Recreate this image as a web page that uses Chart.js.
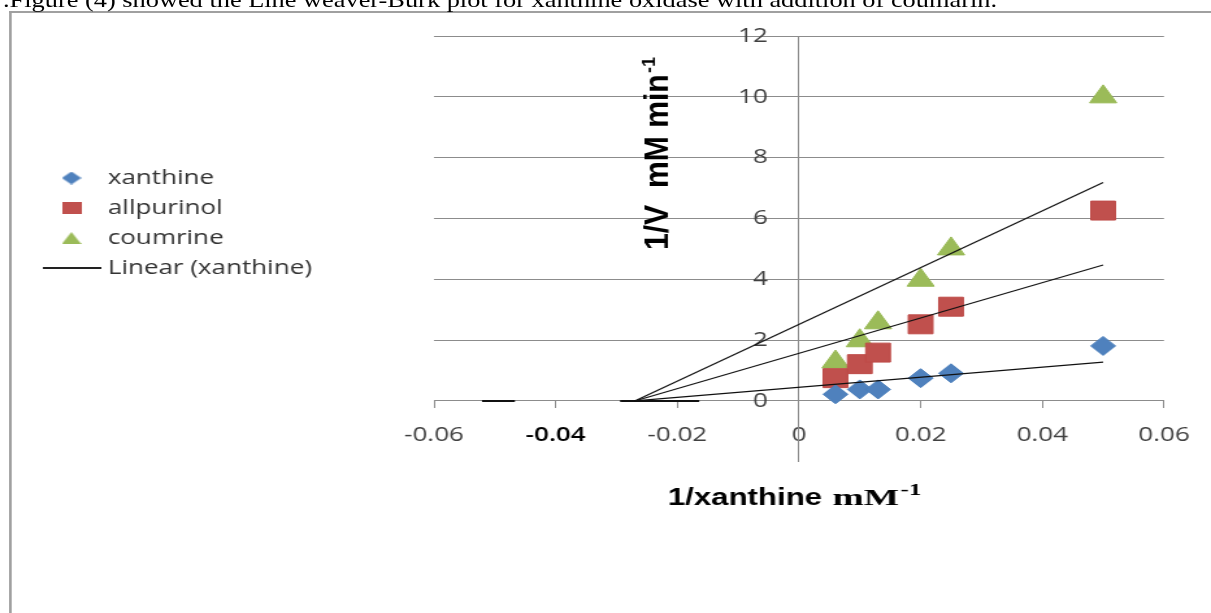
<!DOCTYPE html>
<html>
<head>
<meta charset="utf-8">
<title>Lineweaver-Burk plot</title>
<script src="https://cdn.jsdelivr.net/npm/chart.js@4.4.1/dist/chart.umd.min.js"></script>
<style>
  html, body { margin:0; padding:0; background:#fff; overflow:hidden; width:1211px; height:613px; }
  #stage { position:absolute; left:0; top:0; width:932px; height:613px; transform-origin:0 0; transform:scaleX(1.29936); }
  #chart { position:absolute; left:0; top:0; width:932px; height:613px; }
  #frame { position:absolute; left:7.4px; top:11px; width:940px; height:620px; border-top:2px solid #a0a0a0; border-left:2.3px solid #a0a0a0; box-sizing:border-box; pointer-events:none; }
  #caption { position:absolute; left:2.3px; top:-10px; font-family:"Liberation Serif","Times New Roman",serif; font-size:20.3px; line-height:20.3px; white-space:nowrap; color:#000; }
</style>
</head>
<body>
<div id="stage">
  <canvas id="chart" width="932" height="613"></canvas>
  <div id="frame"></div>
  <div id="caption">.Figure (4) showed the Line weaver-Burk plot for xanthine oxidase with addition of coumarin.</div>
</div>
<script>
// ---------- data ----------
const seriesNames = ['xanthine', 'allpurinol', 'coumrine'];
const trendName = 'Linear (xanthine)';
const xValues = [0.006, 0.010, 0.013, 0.020, 0.025, 0.050];
const xanthineValues = [0.22, 0.38, 0.38, 0.75, 0.91, 1.81];
const allpurinolValues = [0.75, 1.21, 1.59, 2.52, 3.10, 6.26];
const coumrineValues = [1.28, 1.98, 2.57, 3.97, 5.00, 10.0];
const trendX = [-0.027, 0.050];
const trendXanthine = [0, 1.28];
const trendAllpurinol = [0, 4.47];
const trendCoumrine = [0, 7.18];
const axisMarkA = [-0.0521, -0.0467];
const axisMarkB = [-0.0294, -0.0164];
const xTickValues = [-0.06, -0.04, -0.02, 0, 0.02, 0.04, 0.06];
const xTickLabels = ['-0.06', '-0.04', '-0.02', '0', '0.02', '0.04', '0.06'];
const yTickValues = [0, 2, 4, 6, 8, 10, 12];
const yTickLabels = ['0', '2', '4', '6', '8', '10', '12'];
const xTitleParts = ['1/xanthine', 'mM', '-1'];
const yTitleParts = ['1/V  mM min', '-1'];

// ---------- styles ----------
const BLUE = '#4F81BD', RED = '#C0504D', GREEN = '#9BBB59';
const GRID = '#8c8c8c';
const TICKFONT = { family: "'Open Sans', sans-serif", size: 20 };
const TICKFONT_BOLD = { family: "'Open Sans', sans-serif", size: 20, weight: '600' };

const pts = (xs, ys) => xs.map((x, i) => ({ x: x, y: ys[i] }));

function icon(kind, w, h, color) {
  const c = document.createElement('canvas');
  c.width = w; c.height = h;
  const g = c.getContext('2d');
  g.fillStyle = color;
  g.beginPath();
  if (kind === 'diamond') { g.moveTo(w / 2, 0); g.lineTo(w, h / 2); g.lineTo(w / 2, h); g.lineTo(0, h / 2); g.closePath(); g.fill(); }
  else if (kind === 'triangle') { g.moveTo(w / 2, 0); g.lineTo(w, h); g.lineTo(0, h); g.closePath(); g.fill(); }
  else { g.fillRect(0, 0, w, h); }
  return c;
}
const legendIcons = [icon('diamond', 15, 13, BLUE), icon('square', 15, 12, RED), icon('triangle', 15, 12, GREEN), icon('line', 45, 2, '#222')];
const legendTexts = seriesNames.concat([trendName]);

const titlesPlugin = {
  id: 'axisTitles',
  afterDraw(chart) {
    const ctx = chart.ctx;
    ctx.save();
    ctx.fillStyle = '#000';
    ctx.textBaseline = 'alphabetic';
    ctx.textAlign = 'left';
    // x-axis title
    let x = 514;
    const y = 505;
    ctx.font = "bold 24px 'Liberation Sans', Arial, sans-serif";
    ctx.fillText(xTitleParts[0], x, y);
    x += ctx.measureText(xTitleParts[0]).width + 8;
    ctx.save();
    ctx.translate(x, y);
    ctx.scale(1.2, 1);
    ctx.font = "bold 24px 'Liberation Serif', 'Times New Roman', serif";
    ctx.fillText(xTitleParts[1], 0, 0);
    const wm = ctx.measureText(xTitleParts[1]).width + 1;
    ctx.font = "bold 16px 'Liberation Serif', 'Times New Roman', serif";
    ctx.fillText(xTitleParts[2], wm, -10);
    ctx.restore();
    // y-axis title (rotated)
    ctx.translate(514, 250);
    ctx.rotate(-Math.PI / 2);
    ctx.font = "bold 25px 'Liberation Sans', Arial, sans-serif";
    const w1 = ctx.measureText(yTitleParts[0]).width;
    ctx.font = "bold 15px 'Liberation Sans', Arial, sans-serif";
    const w2 = ctx.measureText(yTitleParts[1]).width;
    const k = 193 / (w1 + w2 + 1);
    ctx.scale(k, 1);
    ctx.font = "bold 25px 'Liberation Sans', Arial, sans-serif";
    ctx.fillText(yTitleParts[0], 0, 0);
    ctx.font = "bold 15px 'Liberation Sans', Arial, sans-serif";
    ctx.fillText(yTitleParts[1], w1 + 1, -10);
    ctx.restore();
  }
};

let padW = 80;
const chart = new Chart(document.getElementById('chart'), {
  type: 'scatter',
  data: {
    datasets: [
      { label: trendName, type: 'line', data: pts(trendX, trendXanthine), borderColor: '#111', borderWidth: 1.2, pointRadius: 0, fill: false, order: 1 },
      { label: 'trend allpurinol', type: 'line', data: pts(trendX, trendAllpurinol), borderColor: '#111', borderWidth: 1.2, pointRadius: 0, fill: false, order: 1 },
      { label: 'trend coumrine', type: 'line', data: pts(trendX, trendCoumrine), borderColor: '#111', borderWidth: 1.2, pointRadius: 0, fill: false, order: 1 },
      { label: 'axis mark a', type: 'line', data: pts(axisMarkA, [0, 0]), borderColor: '#111', borderWidth: 2, pointRadius: 0, fill: false, order: 1 },
      { label: 'axis mark b', type: 'line', data: pts(axisMarkB, [0, 0]), borderColor: '#111', borderWidth: 2, pointRadius: 0, fill: false, order: 1 },
      { label: seriesNames[0], data: pts(xValues, xanthineValues), pointStyle: 'rectRot', pointRadius: 9.5, backgroundColor: BLUE, borderColor: '#4A7EBB', borderWidth: 1, order: 2 },
      { label: seriesNames[1], data: pts(xValues, allpurinolValues), pointStyle: 'rect', pointRadius: 13.4, backgroundColor: RED, borderColor: '#BE4B48', borderWidth: 1, order: 2 },
      { label: seriesNames[2], data: pts(xValues, coumrineValues), pointStyle: 'triangle', pointRadius: 12, backgroundColor: GREEN, borderColor: '#98B954', borderWidth: 1, order: 2 }
    ]
  },
  options: {
    responsive: false,
    animation: false,
    devicePixelRatio: 1,
    layout: { padding: { left: 27, right: 36.2, top: 36, bottom: 151.2 } },
    plugins: {
      tooltip: { enabled: false },
      legend: {
        position: 'left',
        align: 'start',
        maxWidth: 500,
        title: { display: true, text: '', padding: { top: 0, bottom: 110 }, font: { size: 10 } },
        labels: {
          usePointStyle: true,
          pointStyleWidth: 36,
          padding: 10,
          color: '#333',
          font: { family: "'Open Sans', sans-serif", size: 20 },
          generateLabels: () => legendTexts.map((t, i) => ({
            text: t, pointStyle: legendIcons[i], fillStyle: '#000', strokeStyle: '#000',
            lineWidth: 0, hidden: false, datasetIndex: i, fontColor: '#333'
          }))
        },
        onClick: () => {}
      }
    },
    scales: {
      x: {
        type: 'linear',
        position: { y: 0 },
        min: -0.06, max: 0.06,
        afterBuildTicks: s => { s.ticks = xTickValues.map(v => ({ value: v })); },
        ticks: {
          callback: (v, i) => xTickLabels[i],
          padding: 15, autoSkip: false, maxRotation: 0,
          font: c => (c.tick && c.tick.value === -0.04) ? TICKFONT_BOLD : TICKFONT,
          color: c => (c.tick && c.tick.value === -0.04) ? '#000' : '#404040'
        },
        grid: { display: true, drawOnChartArea: false, drawTicks: true, tickLength: 7, color: GRID, lineWidth: 1 },
        border: { display: true, color: GRID, width: 1 }
      },
      y: {
        type: 'linear',
        position: 'center',
        min: -2, max: 12,
        afterBuildTicks: s => { s.ticks = yTickValues.map(v => ({ value: v })); },
        ticks: { callback: (v, i) => yTickLabels[i], padding: 24, font: TICKFONT, color: '#404040' },
        grid: { drawOnChartArea: true, drawTicks: false, color: GRID, lineWidth: 1 },
        border: { display: true, color: GRID, width: 1 }
      },
      pad: {
        type: 'linear', axis: 'y', position: 'left', display: true,
        ticks: { display: false }, grid: { display: false }, border: { display: false },
        afterFit: s => { s.width = padW; }
      }
    }
  },
  plugins: [titlesPlugin]
});
padW += 334.0 - chart.chartArea.left;
chart.update();
</script>
</body>
</html>
